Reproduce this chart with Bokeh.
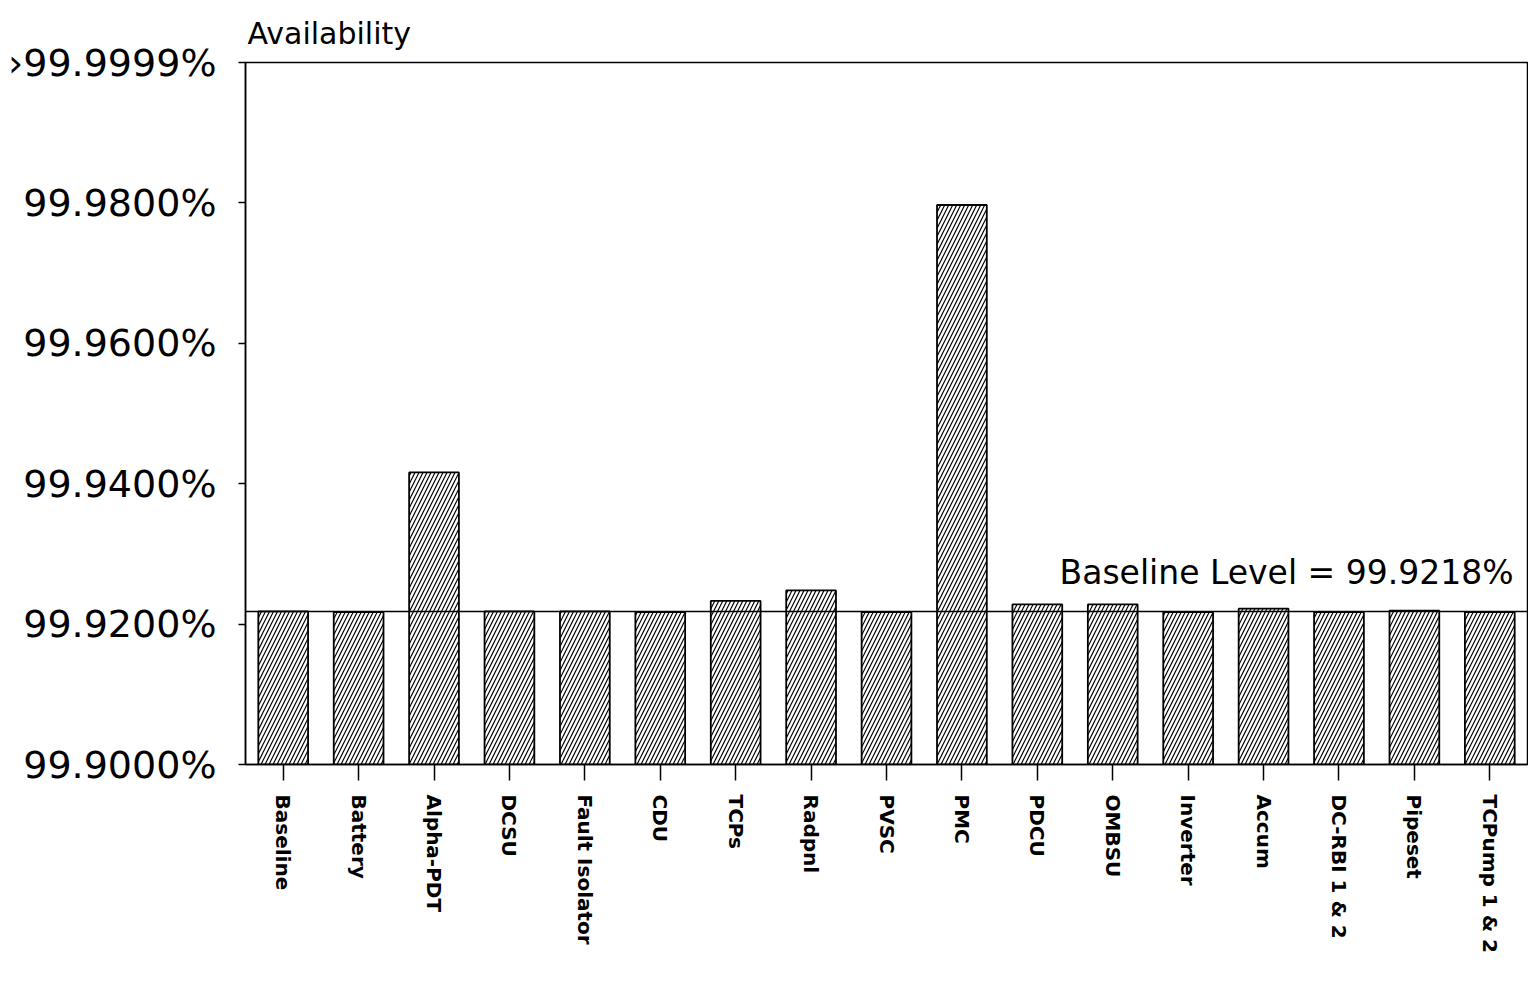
import math
from bokeh.plotting import figure
from bokeh.models import FixedTicker, Span, Label
from bokeh.embed import file_html
from bokeh.resources import INLINE

categories = ["Baseline", "Battery", "Alpha-PDT", "DCSU", "Fault Isolator", "CDU",
              "TCPs", "Radpnl", "PVSC", "PMC", "PDCU", "OMBSU", "Inverter", "Accum",
              "DC-RBI 1 & 2", "Pipeset", "TCPump 1 & 2"]
availability = [99.9218, 99.9217, 99.9416, 99.9218, 99.9218, 99.9217,
                99.9233, 99.9248, 99.9217, 99.9797, 99.9228, 99.9228, 99.9217, 99.9222,
                99.9217, 99.9219, 99.9217]
y_floor = 99.90
y_top = 100.00
baseline_level = 99.9218
ytick_values = [99.90, 99.92, 99.94, 99.96, 99.98, 100.00]
ytick_labels = ["99.9000%", "99.9200%", "99.9400%", "99.9600%", "99.9800%", "\u203a99.9999%"]
baseline_text = "Baseline Level = 99.9218%"
title_text = "Availability"

p = figure(x_range=categories, y_range=(y_floor, y_top), width=1528, height=983,
           output_backend="svg", toolbar_location=None, title=title_text)

p.min_border_left = 245
p.min_border_right = 1
p.min_border_top = 62
p.min_border_bottom = 219

p.title.text_font = "DejaVu Sans"
p.title.text_font_size = "30px"
p.title.text_font_style = "normal"
p.title.text_color = "black"
p.title.align = "left"
p.title.offset = 2
p.title.standoff = 23

p.vbar(x=categories, top=availability, bottom=y_floor, width=0.66,
       fill_color="white", line_color="black", line_width=1.8,
       hatch_pattern="/", hatch_color="black", hatch_scale=8, hatch_weight=1.2)

p.add_layout(Span(location=baseline_level, dimension="width", line_color="black", line_width=1.5))
p.add_layout(Label(x=len(categories), y=baseline_level, x_offset=-14, y_offset=39,
                   text=baseline_text, text_align="right", text_baseline="alphabetic",
                   text_font="DejaVu Sans", text_font_size="33px", text_color="black"))

p.xgrid.grid_line_color = None
p.ygrid.grid_line_color = None
p.outline_line_color = "black"
p.outline_line_width = 1.5
p.background_fill_color = "white"
p.border_fill_color = "white"

ya = p.yaxis[0]
ya.ticker = FixedTicker(ticks=ytick_values)
ya.major_label_overrides = {v: l for v, l in zip(ytick_values, ytick_labels)}
ya.major_label_text_font = "DejaVu Sans"
ya.major_label_text_font_size = "38px"
ya.major_label_text_color = "black"
ya.major_tick_out = 7
ya.major_tick_in = 0
ya.minor_tick_out = 0
ya.minor_tick_in = 0
ya.major_label_standoff = 22
ya.axis_line_color = "black"
ya.axis_line_width = 1.5
ya.major_tick_line_width = 1.5

xa = p.xaxis[0]
xa.major_label_orientation = -math.pi / 2
xa.major_label_text_font = "DejaVu Sans"
xa.major_label_text_font_style = "bold"
xa.major_label_text_font_size = "20px"
xa.major_label_text_color = "black"
xa.major_tick_out = 16
xa.major_tick_in = 0
xa.major_label_standoff = 14
xa.axis_line_color = "black"
xa.axis_line_width = 1.5
xa.major_tick_line_width = 1.5

open("out.html", "w").write(file_html(p, INLINE))
